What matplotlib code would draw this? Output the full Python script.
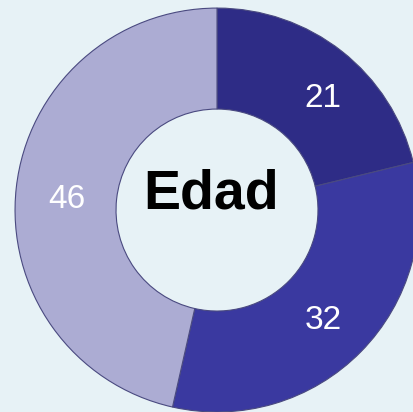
import matplotlib
matplotlib.use('Agg')
import matplotlib.pyplot as plt

# Data
values = [21, 32, 46]
colors = ['#2e2c86', '#3a39a0', '#acacd3']
title = 'Edad'

total = sum(values)

fig = plt.figure(figsize=(4.13, 4.12), dpi=100)
fig.patch.set_facecolor('#e7f2f6')
ax = fig.add_axes([0, 0, 1, 1])
ax.set_facecolor('#e7f2f6')

wedges, texts, autotexts = ax.pie(
    values, colors=colors, startangle=90, counterclock=False,
    radius=1.0, pctdistance=0.75,
    autopct=lambda p: '%.0f' % (p * total / 100),
    wedgeprops=dict(width=0.5, edgecolor='#4a4a80', linewidth=0.8),
    textprops=dict(color='white', fontsize=24, family='Liberation Sans'))

# small nudges of the value labels
nudges = [(0.06, -0.035), (-0.01, -0.02), (0.0, -0.03)]
for t, (dx, dy) in zip(autotexts, nudges):
    x, y = t.get_position()
    t.set_position((x + dx, y + dy))

# Centre label
ax.text(-0.03, 0.075, title, ha='center', va='center', fontsize=40,
        fontweight='bold', family='Liberation Sans', color='black')

ax.set_xlim(-1.074, 0.970)
ax.set_ylim(-1.0, 1.04)
ax.set_aspect('equal')
ax.axis('off')

fig.savefig('out.png', dpi=100, facecolor=fig.get_facecolor())
